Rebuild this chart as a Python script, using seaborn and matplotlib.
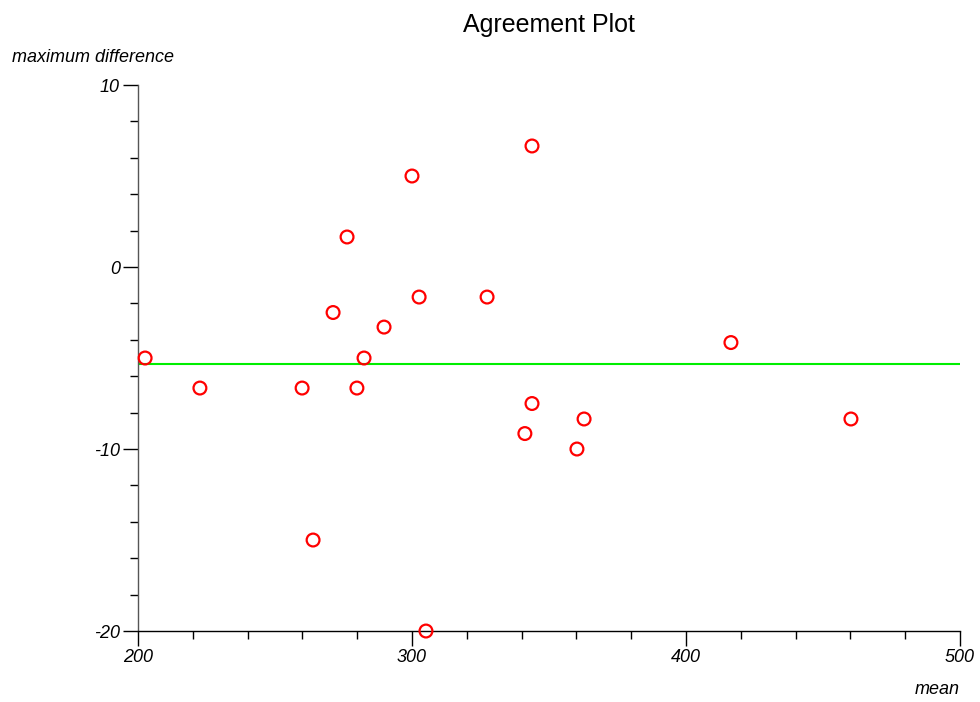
import matplotlib
matplotlib.use("Agg")
import matplotlib.pyplot as plt
import seaborn as sns
import pandas as pd
from matplotlib.ticker import MultipleLocator

mean_vals = [202.6, 222.6, 259.9, 263.9, 271.2, 276.3, 279.9, 282.5, 289.8, 300.0,
             302.6, 305.1, 327.4, 341.2, 343.8, 343.8, 360.2, 362.8, 416.4, 460.2]
max_diff = [-5.0, -6.65, -6.65, -15.0, -2.5, 1.65, -6.65, -5.0, -3.3, 5.0,
            -1.65, -20.0, -1.65, -9.15, 6.65, -7.5, -10.0, -8.35, -4.15, -8.35]
mean_diff = -5.35

df = pd.DataFrame({"mean": mean_vals, "maximum difference": max_diff})

sns.set_theme(style="white")
plt.rcParams['font.family'] = ['Liberation Sans', 'DejaVu Sans']
plt.rcParams['axes.unicode_minus'] = False
plt.rcParams['text.color'] = 'black'
plt.rcParams['xtick.color'] = 'black'
plt.rcParams['ytick.color'] = 'black'

fig = plt.figure(figsize=(9.8, 7.02), dpi=100)
ax = fig.add_axes([0.1408, 0.1011, 0.8388, 0.7778])

ax.axhline(mean_diff, color="#00ee00", lw=1.5, zorder=1)
sns.scatterplot(data=df, x="mean", y="maximum difference", ax=ax,
                marker="o", s=85, facecolor="none", edgecolor="#ff0000",
                linewidth=1.6, zorder=3, clip_on=False)

ax.set_xlim(200, 500)
ax.set_ylim(-20, 10)
ax.xaxis.set_major_locator(MultipleLocator(100))
ax.xaxis.set_minor_locator(MultipleLocator(20))
ax.yaxis.set_major_locator(MultipleLocator(10))
ax.yaxis.set_minor_locator(MultipleLocator(2))
ax.tick_params(axis="both", which="major", length=11, width=1, color="black",
               labelsize=13, labelcolor="black", direction="out", pad=2)
ax.tick_params(axis="both", which="minor", length=6, width=1, color="black", direction="out")
ax.tick_params(bottom=True, left=True, which="both")
for lab in ax.get_xticklabels() + ax.get_yticklabels():
    lab.set_fontstyle("italic")
for s in ["top", "right"]:
    ax.spines[s].set_visible(False)
ax.spines["left"].set_color("#555555")
ax.spines["bottom"].set_color("black")
ax.spines["left"].set_linewidth(1)
ax.spines["bottom"].set_linewidth(1)

ax.set_xlabel("")
ax.set_ylabel("")
fig.text(12/980, 1 - 57/702, "maximum difference", fontsize=13, fontstyle="italic",
         ha="left", va="center", color="black")
fig.text(960/980, 1 - 690/702, "mean", fontsize=13, fontstyle="italic",
         ha="right", va="center", color="black")
fig.text(549/980, 1 - 25/702, "Agreement Plot", fontsize=18, ha="center", va="center",
         color="black")

fig.savefig("out.png", dpi=100, facecolor="white")
